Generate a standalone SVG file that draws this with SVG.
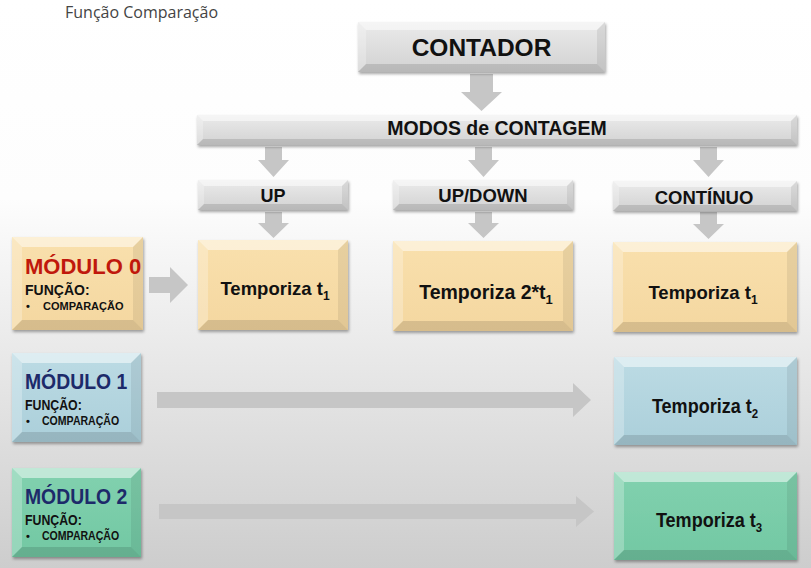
<svg xmlns="http://www.w3.org/2000/svg" width="811" height="568" viewBox="0 0 811 568">
<defs>
<linearGradient id="bg" x1="0" y1="0" x2="0" y2="1">
<stop offset="0" stop-color="#ffffff"/><stop offset="0.35" stop-color="#fdfdfd"/><stop offset="1" stop-color="#cdcdcd"/>
</linearGradient>
<linearGradient id="gGray" x1="0" y1="0" x2="0" y2="1"><stop offset="0" stop-color="#ebebeb"/><stop offset="1" stop-color="#d2d2d2"/></linearGradient>
<linearGradient id="gBeige" x1="0" y1="0" x2="0" y2="1"><stop offset="0" stop-color="#f9e0ad"/><stop offset="1" stop-color="#f4d7a0"/></linearGradient>
<linearGradient id="gBlue" x1="0" y1="0" x2="0" y2="1"><stop offset="0" stop-color="#bcdbe4"/><stop offset="1" stop-color="#abcfda"/></linearGradient>
<linearGradient id="gGreen" x1="0" y1="0" x2="0" y2="1"><stop offset="0" stop-color="#82d1af"/><stop offset="1" stop-color="#72c8a3"/></linearGradient>
<filter id="sh" x="-10%" y="-10%" width="130%" height="140%"><feDropShadow dx="1" dy="2" stdDeviation="1.5" flood-color="#000" flood-opacity="0.35"/></filter>
</defs>
<style>
.bt{fill:#fff;opacity:.5}
.bl{fill:#fff;opacity:.25}
.bb{fill:#000;opacity:.12}
.br{fill:#000;opacity:.07}
.gray{fill:url(#gGray)}
.beige{fill:url(#gBeige)}
.blue{fill:url(#gBlue)}
.green{fill:url(#gGreen)}
.box{filter:url(#sh)}
text{font-family:"Liberation Sans",Arial,sans-serif;font-weight:bold;fill:#111}
.c{text-anchor:middle}
.arr{fill:#c6c6c6}
</style>
<rect width="811" height="568" fill="url(#bg)"/>
<text x="65" y="18" style="font-family:'Open Sans',sans-serif;font-weight:normal;font-size:16px;fill:#444">Função Comparação</text>

<g id="connectors">
<polygon class="arr" points="470,74 493,74 493,92 502,92 481.5,111 461,92 470,92"/>
<polygon class="arr" points="265,147 282,147 282,160 289,160 273.5,177 258,160 265,160"/>
<polygon class="arr" points="475,147 492,147 492,160 499,160 483.5,177 468,160 475,160"/>
<polygon class="arr" points="700,147 717,147 717,160 724,160 708.5,177 693,160 700,160"/>
<polygon class="arr" points="265,212 282,212 282,223 289,223 273.5,238 258,223 265,223"/>
<polygon class="arr" points="475,212 492,212 492,223 499,223 483.5,238 468,223 475,223"/>
<polygon class="arr" points="700,212 717,212 717,224 724,224 708.5,239 693,224 700,224"/>
<polygon class="arr" points="149,277 170,277 170,267 188,285 170,303 170,293 149,293"/>
<polygon class="arr" points="157,392 573,392 573,383 591,400 573,417 573,408 157,408"/>
<polygon class="arr" points="159,504 576,504 576,496 594,511.5 576,527 576,519 159,519"/>
</g>

<g id="contador" transform="translate(358,22)">
<rect class="gray box" width="247" height="50"/>
<polygon class="bt" points="0,0 247,0 239,8 8,8"/><polygon class="bl" points="0,0 8,8 8,42 0,50"/>
<polygon class="bb" points="0,50 8,42 239,42 247,50"/><polygon class="br" points="247,0 247,50 239,42 239,8"/>
<text class="c" x="123.5" y="34" font-size="24.5">CONTADOR</text>
</g>

<g id="modos" transform="translate(197,115)">
<rect class="gray box" width="600" height="30"/>
<polygon class="bt" points="0,0 600,0 594,6 6,6"/><polygon class="bl" points="0,0 6,6 6,24 0,30"/>
<polygon class="bb" points="0,30 6,24 594,24 600,30"/><polygon class="br" points="600,0 600,30 594,24 594,6"/>
<text class="c" x="300" y="20" font-size="19.5">MODOS de CONTAGEM</text>
</g>

<g id="up" transform="translate(198,180)">
<rect class="gray box" width="150" height="30"/>
<polygon class="bt" points="0,0 150,0 144,6 6,6"/><polygon class="bl" points="0,0 6,6 6,24 0,30"/>
<polygon class="bb" points="0,30 6,24 144,24 150,30"/><polygon class="br" points="150,0 150,30 144,24 144,6"/>
<text class="c" x="75" y="22" font-size="18">UP</text>
</g>

<g id="updown" transform="translate(393,180)">
<rect class="gray box" width="180" height="30"/>
<polygon class="bt" points="0,0 180,0 174,6 6,6"/><polygon class="bl" points="0,0 6,6 6,24 0,30"/>
<polygon class="bb" points="0,30 6,24 174,24 180,30"/><polygon class="br" points="180,0 180,30 174,24 174,6"/>
<text class="c" x="90" y="22" font-size="18.5">UP/DOWN</text>
</g>

<g id="continuo" transform="translate(613,181)">
<rect class="gray box" width="184" height="30"/>
<polygon class="bt" points="0,0 184,0 178,6 6,6"/><polygon class="bl" points="0,0 6,6 6,24 0,30"/>
<polygon class="bb" points="0,30 6,24 178,24 184,30"/><polygon class="br" points="184,0 184,30 178,24 178,6"/>
<text class="c" x="91" y="23" font-size="18.5">CONTÍNUO</text>
</g>

<g id="temp-up" transform="translate(198,240)">
<rect class="beige box" width="150" height="90"/>
<polygon class="bt" points="0,0 150,0 140,10 10,10"/><polygon class="bl" points="0,0 10,10 10,80 0,90"/>
<polygon class="bb" points="0,90 10,80 140,80 150,90"/><polygon class="br" points="150,0 150,90 140,80 140,10"/>
<text class="c" x="77" y="55" font-size="18.5">Temporiza t<tspan font-size="12" dy="5">1</tspan></text>
</g>

<g id="temp-updown" transform="translate(393,241)">
<rect class="beige box" width="180" height="90"/>
<polygon class="bt" points="0,0 180,0 170,10 10,10"/><polygon class="bl" points="0,0 10,10 10,80 0,90"/>
<polygon class="bb" points="0,90 10,80 170,80 180,90"/><polygon class="br" points="180,0 180,90 170,80 170,10"/>
<text class="c" x="93" y="58" font-size="19.5">Temporiza 2*t<tspan font-size="13" dy="5">1</tspan></text>
</g>

<g id="temp-cont" transform="translate(613,242)">
<rect class="beige box" width="184" height="90"/>
<polygon class="bt" points="0,0 184,0 174,10 10,10"/><polygon class="bl" points="0,0 10,10 10,80 0,90"/>
<polygon class="bb" points="0,90 10,80 174,80 184,90"/><polygon class="br" points="184,0 184,90 174,80 174,10"/>
<text class="c" x="90" y="57" font-size="18.5">Temporiza t<tspan font-size="12" dy="5">1</tspan></text>
</g>

<g id="modulo0" transform="translate(12,237)">
<rect class="beige box" width="131" height="93"/>
<polygon class="bt" points="0,0 131,0 121,10 10,10"/><polygon class="bl" points="0,0 10,10 10,83 0,93"/>
<polygon class="bb" points="0,93 10,83 121,83 131,93"/><polygon class="br" points="131,0 131,93 121,83 121,10"/>
<text x="13" y="37" font-size="22" style="fill:#c0180c">MÓDULO 0</text>
<text x="13" y="58" font-size="14">FUNÇÃO:</text>
<text x="14" y="73" font-size="11">•</text>
<text x="31" y="73" font-size="11">COMPARAÇÃO</text>
</g>

<g id="modulo1" transform="translate(12,353)">
<rect class="blue box" width="129" height="89"/>
<polygon class="bt" points="0,0 129,0 119,10 10,10"/><polygon class="bl" points="0,0 10,10 10,79 0,89"/>
<polygon class="bb" points="0,89 10,79 119,79 129,89"/><polygon class="br" points="129,0 129,89 119,79 119,10"/>
<text transform="translate(13,36) scale(0.88,1)" font-size="22" style="fill:#1d2a6a">MÓDULO 1</text>
<text transform="translate(13,57) scale(0.88,1)" font-size="14">FUNÇÃO:</text>
<text x="14" y="72" font-size="11">•</text>
<text transform="translate(30,72) scale(0.88,1)" font-size="12">COMPARAÇÃO</text>
</g>

<g id="temp-t2" transform="translate(614,357)">
<rect class="blue box" width="183" height="88"/>
<polygon class="bt" points="0,0 183,0 173,10 10,10"/><polygon class="bl" points="0,0 10,10 10,78 0,88"/>
<polygon class="bb" points="0,88 10,78 173,78 183,88"/><polygon class="br" points="183,0 183,88 173,78 173,10"/>
<text class="c" transform="translate(91,56) scale(0.88,1)" font-size="20.5">Temporiza t<tspan font-size="13" dy="5">2</tspan></text>
</g>

<g id="modulo2" transform="translate(12,468)">
<rect class="green box" width="129" height="89"/>
<polygon class="bt" points="0,0 129,0 119,10 10,10"/><polygon class="bl" points="0,0 10,10 10,79 0,89"/>
<polygon class="bb" points="0,89 10,79 119,79 129,89"/><polygon class="br" points="129,0 129,89 119,79 119,10"/>
<text transform="translate(13,36) scale(0.88,1)" font-size="22" style="fill:#1d2a6a">MÓDULO 2</text>
<text transform="translate(13,57) scale(0.88,1)" font-size="14">FUNÇÃO:</text>
<text x="14" y="72" font-size="11">•</text>
<text transform="translate(30,72) scale(0.88,1)" font-size="12">COMPARAÇÃO</text>
</g>

<g id="temp-t3" transform="translate(614,472)">
<rect class="green box" width="183" height="88"/>
<polygon class="bt" points="0,0 183,0 173,10 10,10"/><polygon class="bl" points="0,0 10,10 10,78 0,88"/>
<polygon class="bb" points="0,88 10,78 173,78 183,88"/><polygon class="br" points="183,0 183,88 173,78 173,10"/>
<text class="c" transform="translate(95,55) scale(0.88,1)" font-size="20.5">Temporiza t<tspan font-size="13" dy="5">3</tspan></text>
</g>
</svg>
